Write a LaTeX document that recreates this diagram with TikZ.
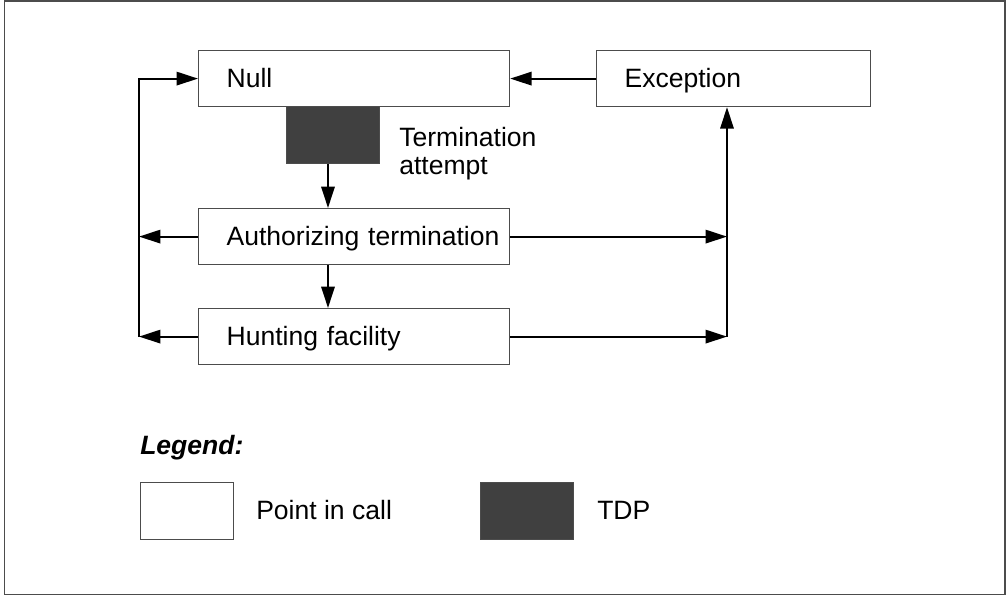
\documentclass[tikz,border=0pt]{standalone}
\usepackage{fontspec}
\setmainfont{Liberation Sans}
\usetikzlibrary{arrows.meta}

\begin{document}
\begin{tikzpicture}[x=0.75pt,y=-0.75pt,
		every node/.style={font=\fontsize{19.9}{21}\selectfont},
		pic/.style={draw=black!70, line width=0.9pt, fill=white, anchor=north west,
			minimum height=42pt, inner xsep=1pt, inner ysep=0pt,
			text height=14pt, text depth=0pt, align=left,
			execute at begin node=\hspace*{20pt}},
		tdp/.style={draw=black!70, line width=0.9pt, fill=black!75, anchor=north west,
			minimum width=69.75pt, minimum height=42.75pt, inner sep=0pt},
		keybox/.style={tdp, fill=white},
		link/.style={line width=1.5pt, -{Triangle[length=16pt,width=10pt]}}]
		\useasboundingbox (0,0) rectangle (1008,596);
		\draw[black!70, line width=1pt] (4.5,1) rectangle (1005,594.5);

		\node[pic, text width=231.25pt] (null) at (198,50) {Null};
		\node[pic, text width=203.5pt] (exc) at (596,50) {Exception};
		\node[tdp] (term) at (286,106) {};
		\node[anchor=north west, inner sep=0pt, align=left] (termtxt) at (399,127) {Termination\\attempt};
		\node[pic, text width=231.25pt] (auth) at (198,208) {Authorizing termination};
		\node[pic, text width=231.25pt] (hunt) at (198,308) {Hunting facility};

		\coordinate (lft) at (139,0);
		\coordinate (rgt) at (727,0);
		\coordinate (mid) at (328,0);

		\draw[link] (exc.west) -- (null.east);
		\draw[link] (term.south -| mid) -- (auth.north -| mid);
		\draw[link] (auth.south -| mid) -- (hunt.north -| mid);
		\draw[link] (auth.west) -- (auth.west -| lft);
		\draw[link] (hunt.west) -- (hunt.west -| lft);
		\draw[link] (hunt.west -| lft) |- (null.west);
		\draw[link] (auth.east) -- (auth.east -| rgt);
		\draw[link] (hunt.east) -- (hunt.east -| rgt);
		\draw[link] (hunt.east -| rgt) -- (exc.south -| rgt);

		\node[anchor=west, inner sep=0pt, font=\fontsize{19.9}{21}\selectfont\bfseries\itshape] (legend) at (140,448) {Legend:};
		\node[keybox] (keypic) at (140,482) {};
		\node[anchor=west, inner sep=0pt] (keypictxt) at (256,510) {Point in call};
		\node[tdp] (keytdp) at (480,482) {};
		\node[anchor=west, inner sep=0pt] (keytdptxt) at (597,510) {TDP};
	\end{tikzpicture}
\end{document}
